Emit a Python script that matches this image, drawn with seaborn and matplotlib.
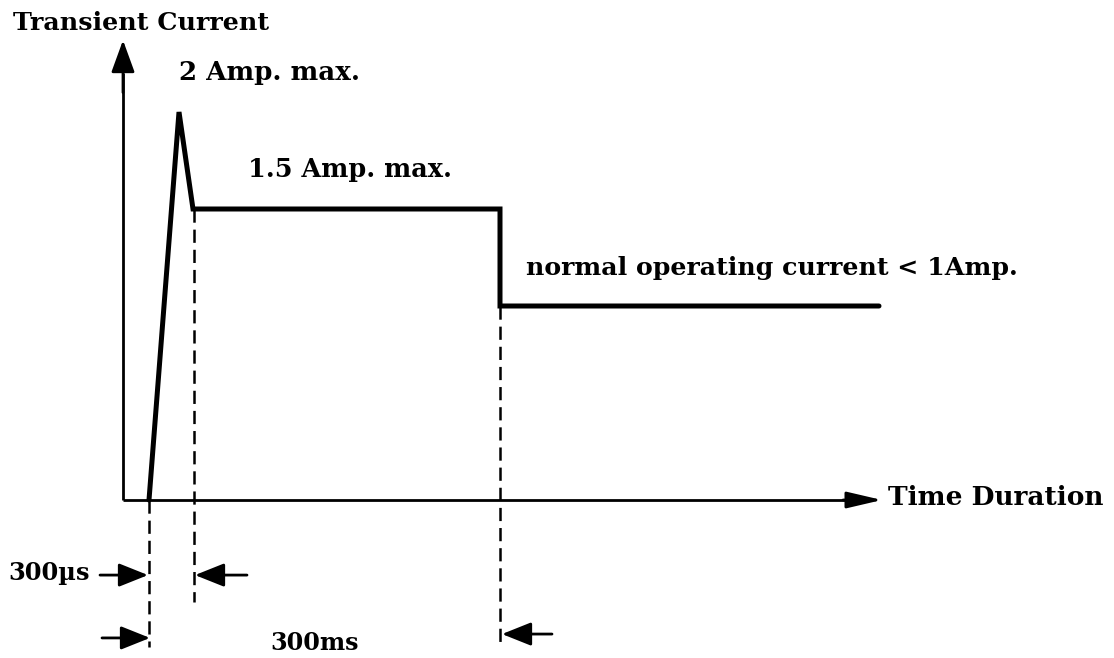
import numpy as np
import pandas as pd
import matplotlib
matplotlib.use("Agg")
import matplotlib.pyplot as plt
import seaborn as sns

# ---- data (schematic units: time in arbitrary units, current in Amps) ----
wave_time = [2.6, 5.6, 7.0, 37.7, 37.7, 75.6]
wave_current = [0.0, 2.0, 1.5, 1.5, 1.0, 1.0]
peak_label = "2 Amp. max."
plateau_label = "1.5 Amp. max."
normal_label = "normal operating current < 1Amp."
y_label = "Transient Current"
x_label = "Time Duration"
short_label = "300\u00b5s"
long_label = "300ms"

# marker time instants (dashed guides)
t_start = 2.6
t_spike_end = 7.1
t_plateau_end = 37.7

sns.set_style("white")
plt.rcParams["lines.scale_dashes"] = False
plt.rcParams["font.family"] = ["DejaVu Serif"]

fig = plt.figure(figsize=(11.14, 6.58), dpi=100)
ax = fig.add_axes([0, 0, 1, 1])
ax.set_xlim(-12.3, 99.1)
ax.set_ylim(-158 / 194, 500 / 194)
ax.axis("off")

df = pd.DataFrame({"time": wave_time, "current": wave_current})
sns.lineplot(data=df, x="time", y="current", sort=False, estimator=None,
             color="black", lw=3.6, ax=ax, solid_joinstyle="miter")

# axes with arrowheads
ax.plot([0, 0], [0, 2.2], color="black", lw=2, solid_capstyle="butt")
ax.annotate("", xy=(0, 2.37), xytext=(0, 2.1),
            arrowprops=dict(arrowstyle="-|>,head_length=0.55,head_width=0.2",
                            mutation_scale=36, color="black", lw=2,
                            shrinkA=0, shrinkB=0))
ax.plot([0, 74], [0, 0], color="black", lw=2, solid_capstyle="butt")
ax.annotate("", xy=(75.9, 0), xytext=(72.0, 0),
            arrowprops=dict(arrowstyle="-|>,head_length=0.6,head_width=0.14",
                            mutation_scale=36, color="black", lw=2,
                            shrinkA=0, shrinkB=0))

# dashed guides
dash = (0, (9.5, 5))
ax.plot([t_start, t_start], [0, -0.758], color="black", lw=1.8, ls=dash)
ax.plot([t_spike_end, t_spike_end], [1.5, -0.526], color="black", lw=1.8, ls=dash)
ax.plot([t_plateau_end, t_plateau_end], [1.0, -0.737], color="black", lw=1.8, ls=dash)

def dim_arrow(x0, x1, y):
    ax.annotate("", xy=(x1, y), xytext=(x0, y),
                arrowprops=dict(arrowstyle="-|>,head_length=0.5,head_width=0.2",
                                mutation_scale=36, color="black", lw=2,
                                shrinkA=0, shrinkB=0))

dim_arrow(-2.3, t_start - 0.1, -0.387)
dim_arrow(12.4, t_spike_end + 0.1, -0.387)
dim_arrow(-2.1, t_start + 0.1, -0.711)
dim_arrow(42.9, t_plateau_end + 0.2, -0.691)

tkw = dict(fontweight="bold", color="black", va="baseline", ha="left")
ax.text(-11.0, 2.423, y_label, fontsize=18.3, **tkw)
ax.text(5.6, 2.165, peak_label, fontsize=18.8, **tkw)
ax.text(12.5, 1.665, plateau_label, fontsize=18.4, **tkw)
ax.text(40.3, 1.160, normal_label, fontsize=18.2, **tkw)
ax.text(76.5, -0.026, x_label, fontsize=19.0, **tkw)
ax.text(-11.5, -0.412, short_label, fontsize=17.4, **tkw)
ax.text(14.7, -0.773, long_label, fontsize=17.2, **tkw)

fig.savefig("out.png", dpi=100)
